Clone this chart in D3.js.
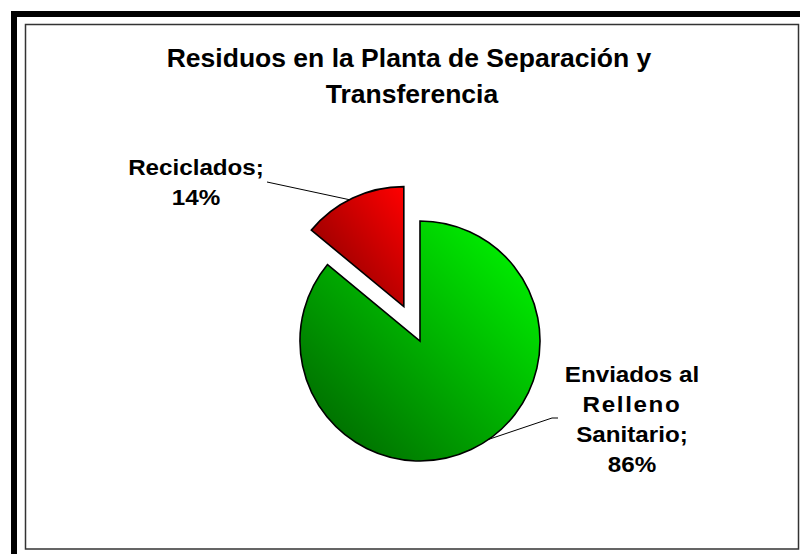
<!DOCTYPE html>
<html>
<head>
<meta charset="utf-8">
<script src="https://cdn.jsdelivr.net/npm/d3@7"></script>
<style>
  body { margin: 0; background: #fff; }
  svg text { font-family: "Liberation Sans", Arial, sans-serif; font-weight: bold; fill: #000; }
</style>
</head>
<body>
<svg id="chart" width="800" height="554"></svg>
<script>
const svg = d3.select("#chart");

// data
const titleLines = ["Residuos en la Planta de Separación y", "Transferencia"];
const categories = ["Enviados al Relleno Sanitario", "Reciclados"];
const values = [86, 14];
const labelLines = [["Enviados al", "Relleno", "Sanitario;", "86%"], ["Reciclados;", "14%"]];

// frame
svg.append("path")
  .attr("d", "M14,554 V14 H800")
  .attr("fill", "none")
  .attr("stroke", "#000")
  .attr("stroke-width", 6);

svg.append("rect")
  .attr("x", 25.5).attr("y", 24.5)
  .attr("width", 773).attr("height", 524.5)
  .attr("fill", "#fff")
  .attr("stroke", "#333")
  .attr("stroke-width", 1.5);

// title
svg.append("text")
  .attr("text-anchor", "middle")
  .style("font-size", "26.5px")
  .selectAll("tspan")
  .data(titleLines)
  .join("tspan")
  .attr("x", (d, i) => i ? 412 : 409)
  .attr("y", (d, i) => 67 + i * 36)
  .text(d => d);

// gradients
const defs = svg.append("defs");
const grads = [["gGreen", "#00ff00", "#005c00"], ["gRed", "#ff0000", "#7a0000"]];
grads.forEach(g => {
  const lg = defs.append("linearGradient")
    .attr("id", g[0])
    .attr("x1", 1).attr("y1", 0).attr("x2", 0).attr("y2", 1);
  lg.append("stop").attr("offset", "0%").attr("stop-color", g[1]);
  lg.append("stop").attr("offset", "100%").attr("stop-color", g[2]);
});

const cx = 420, cy = 341, r = 120;
const explode = [0, 38];

const pie = d3.pie().sort(null).startAngle(0).endAngle(2 * Math.PI);
const arcs = pie(values);
const arc = d3.arc().innerRadius(0).outerRadius(r);

const g = svg.append("g").attr("transform", `translate(${cx},${cy})`);

function offset(d, i) {
  const a = (d.startAngle + d.endAngle) / 2;
  return [Math.sin(a) * explode[i], -Math.cos(a) * explode[i]];
}

g.selectAll("path.slice")
  .data(arcs)
  .join("path")
  .attr("class", "slice")
  .attr("transform", (d, i) => `translate(${offset(d, i)})`)
  .attr("d", arc)
  .attr("fill", (d, i) => `url(#${grads[i][0]})`)
  .attr("stroke", "#000")
  .attr("stroke-width", 1.6)
  .attr("stroke-linejoin", "miter");

// labels: layout per slice
const labelPos = [
  { x: 632, y: 382, leader: [[558, 418], [552, 418]], angle: 145 },
  { x: 196, y: 175, leader: [[267, 182]], angle: 333 }
];

arcs.forEach((d, i) => {
  const p = labelPos[i];
  const o = offset(d, i);
  const a = p.angle * Math.PI / 180;
  const end = [cx + o[0] + Math.sin(a) * r, cy + o[1] - Math.cos(a) * r];
  svg.append("path")
    .attr("d", d3.line()(p.leader.concat([end])))
    .attr("fill", "none")
    .attr("stroke", "#000")
    .attr("stroke-width", 1);

  svg.append("text")
    .attr("text-anchor", "middle")
    .attr("transform", `translate(${p.x},${p.y}) scale(1.1,1)`)
    .style("font-size", "22px")
    .selectAll("tspan")
    .data(labelLines[i])
    .join("tspan")
    .attr("x", 0)
    .attr("y", (t, j) => j * 30)
    .attr("letter-spacing", (t, j) => (t === "Relleno" ? 1.5 : 0))
    .text(t => t);
});
</script>
</body>
</html>
